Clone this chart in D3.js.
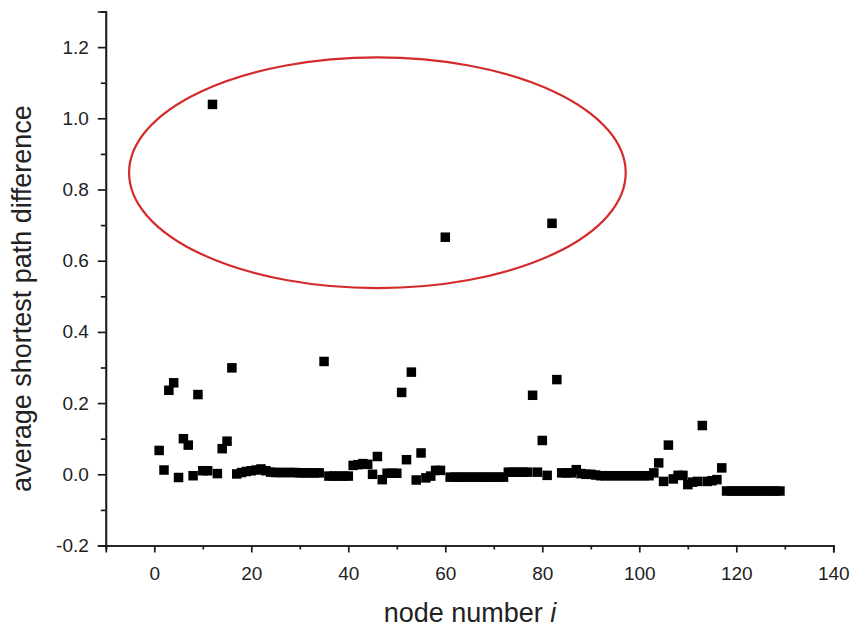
<!DOCTYPE html>
<html><head><meta charset="utf-8">
<script src="https://cdn.jsdelivr.net/npm/d3@7"></script>
<style>
body{margin:0;background:#fff;}
svg{display:block;font-family:"Liberation Sans",Arial,sans-serif;}
</style></head>
<body><svg id="c" width="854" height="627"></svg>
<script>
// node numbers 1..129 and their average shortest path difference
const values = [
 0.067, 0.012, 0.236, 0.257, -0.009, 0.100, 0.082, -0.004, 0.224, 0.010,
 0.010, 1.039, 0.002, 0.072, 0.093, 0.299, 0.001, 0.005, 0.008, 0.010,
 0.012, 0.015, 0.010, 0.006, 0.005, 0.005, 0.005, 0.005, 0.005, 0.004,
 0.004, 0.004, 0.004, 0.004, 0.317, -0.005, -0.005, -0.005, -0.005, -0.005,
 0.025, 0.027, 0.030, 0.028, 0.000, 0.050, -0.015, 0.003, 0.003, 0.003,
 0.230, 0.041, 0.287, -0.016, 0.060, -0.010, -0.005, 0.011, 0.011, 0.666,
 -0.008, -0.008, -0.008, -0.008, -0.008, -0.008, -0.008, -0.008, -0.008, -0.008,
 -0.008, -0.008, 0.006, 0.006, 0.006, 0.006, 0.006, 0.222, 0.006, 0.095,
 -0.003, 0.705, 0.266, 0.004, 0.004, 0.004, 0.013, 0.002, 0.000, 0.000,
 -0.002, -0.004, -0.004, -0.004, -0.004, -0.004, -0.004, -0.004, -0.004, -0.004,
 -0.004, -0.004, 0.004, 0.032, -0.020, 0.082, -0.013, -0.003, -0.003, -0.029,
 -0.022, -0.020, 0.137, -0.020, -0.018, -0.015, 0.018, -0.047, -0.047, -0.047,
 -0.047, -0.047, -0.047, -0.047, -0.047, -0.047, -0.047, -0.047, -0.047
];
const nodes = values.map((v, k) => k + 1);
const xTicks = [0, 20, 40, 60, 80, 100, 120, 140];
const yTicks = [-0.2, 0.0, 0.2, 0.4, 0.6, 0.8, 1.0, 1.2];
const yTickLabels = ["-0.2", "0.0", "0.2", "0.4", "0.6", "0.8", "1.0", "1.2"];
const ellipseCenter = [46.0, 0.847];
const ellipseRadii = [51.2, 0.324];

const svg = d3.select("#c");
const x = d3.scaleLinear().domain([-10, 140]).range([105.8, 833.3]);
const y = d3.scaleLinear().domain([-0.2, 1.3]).range([545.5, 11.5]);

// axes
const xAxis = d3.axisBottom(x).tickValues(xTicks).tickFormat(d3.format("d")).tickSizeOuter(0).tickSize(7).tickPadding(14);
const xMinor = d3.axisBottom(x).tickValues(d3.range(-10, 141, 10).filter(v => v % 20 !== 0)).tickFormat("").tickSizeOuter(0).tickSize(4);
const yAxis = d3.axisLeft(y).tickValues(yTicks).tickFormat((d, k) => yTickLabels[k]).tickSizeOuter(0).tickSize(8).tickPadding(9);
const yMinor = d3.axisLeft(y).tickValues([-0.1, 0.1, 0.3, 0.5, 0.7, 0.9, 1.1, 1.3]).tickFormat("").tickSizeOuter(0).tickSize(5);

function style(g){
  g.selectAll("path.domain").attr("stroke", "#1a1a1a").attr("stroke-width", 1.7);
  g.selectAll("line").attr("stroke", "#1a1a1a").attr("stroke-width", 1.7);
  g.selectAll("text").attr("fill", "#222").style("font-size", "19px").style("font-family", "'Liberation Sans',Arial,sans-serif");
}
svg.append("g").attr("transform", `translate(0,${y(-0.2)})`).call(xMinor).call(style);
svg.append("g").attr("transform", `translate(0,${y(-0.2)})`).call(xAxis).call(style);
svg.append("g").attr("transform", `translate(${x(-10)},0)`).call(yMinor).call(style);
svg.append("g").attr("transform", `translate(${x(-10)},0)`).call(yAxis).call(style);

// ellipse
svg.append("ellipse")
  .attr("cx", x(ellipseCenter[0])).attr("cy", y(ellipseCenter[1]))
  .attr("rx", x(ellipseCenter[0] + ellipseRadii[0]) - x(ellipseCenter[0]))
  .attr("ry", y(ellipseCenter[1] - ellipseRadii[1]) - y(ellipseCenter[1]))
  .attr("fill", "none").attr("stroke", "#d42a2a").attr("stroke-width", 2.2);

// points
const s = 9.5;
svg.append("g").selectAll("rect").data(nodes).join("rect")
  .attr("x", (d, k) => x(d) - s / 2)
  .attr("y", (d, k) => y(values[k]) - s / 2)
  .attr("width", s).attr("height", s)
  .attr("fill", "#000");

// titles
svg.append("text")
  .attr("transform", `translate(31,${(y(-0.2) + y(1.3)) / 2 + 20}) rotate(-90)`)
  .attr("text-anchor", "middle").style("font-size", "27px").attr("fill", "#222")
  .text("average shortest path difference");
const xt = svg.append("text").attr("x", 470).attr("y", 622)
  .attr("text-anchor", "middle").style("font-size", "27px").attr("fill", "#222");
xt.append("tspan").text("node number ");
xt.append("tspan").style("font-style", "italic").text("i");
</script></body></html>
